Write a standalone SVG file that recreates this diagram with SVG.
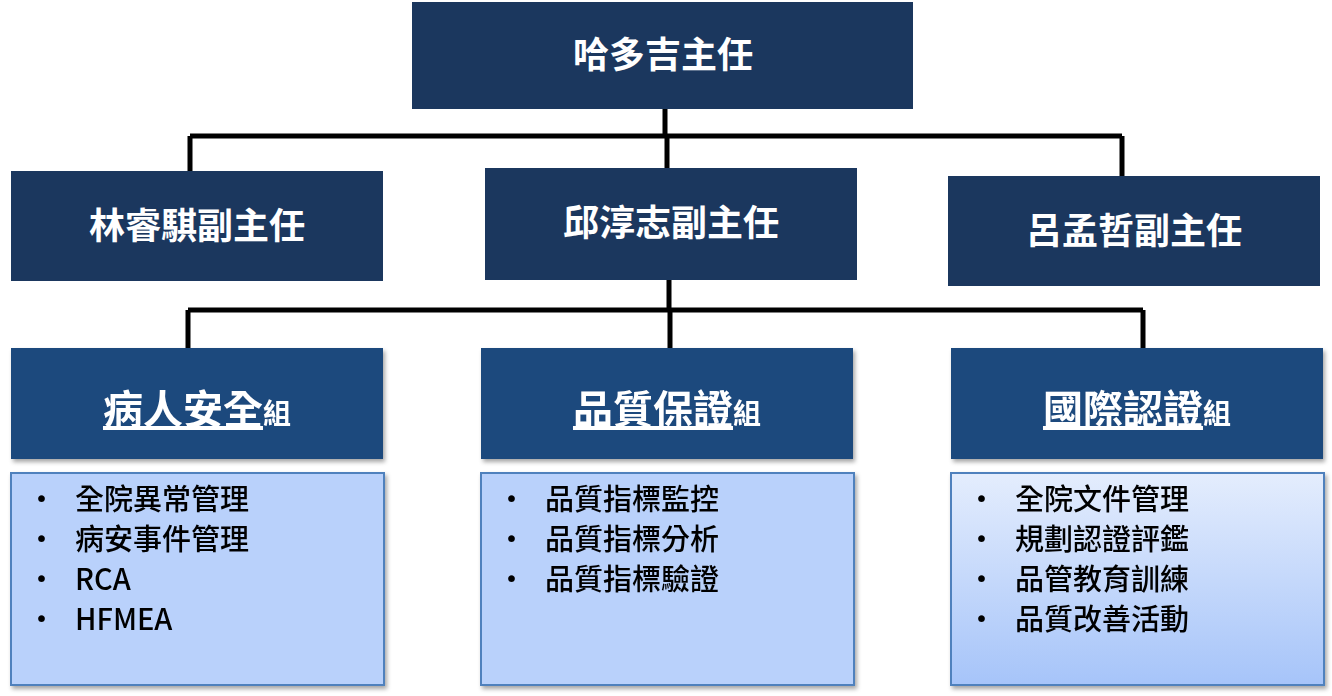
<svg xmlns="http://www.w3.org/2000/svg" width="1332" height="696" viewBox="0 0 1332 696">
<defs>
<linearGradient id="g3" x1="0" y1="0" x2="0" y2="1"><stop offset="0" stop-color="#e4edfd"/><stop offset="1" stop-color="#a6c4f9"/></linearGradient>
<filter id="sh" x="-5%" y="-5%" width="115%" height="120%"><feDropShadow dx="2" dy="3" stdDeviation="2" flood-opacity="0.35"/></filter>
</defs>
<style>
.n{fill:#1b375e}
.h{fill:#1f497d}
.l{fill:#b9d1fb;stroke:#4f81bd;stroke-width:2}
.t{font-family:"Noto Sans CJK TC","Noto Sans CJK SC",sans-serif;font-weight:bold;fill:#fff;text-anchor:middle}
.b{font-family:"Noto Sans CJK TC","Noto Sans CJK SC",sans-serif;font-weight:500;font-size:29px;fill:#000}
.c{stroke:#000;stroke-width:5;fill:none}
</style>
<g id="connectors">
<path class="c" d="M665 109V136M190 136H1122M190 136V171M667 136V168M1122 136V176"/>
<path class="c" d="M669 280V310M188 310H1143M188 310V348M670 310V348M1143 310V348"/>
</g>
<g id="top"><rect class="n" x="412" y="2" width="501" height="107"/><text class="t" x="663" y="68" font-size="36">哈多吉主任</text></g>
<g id="lin"><rect class="n" x="11" y="171" width="372" height="110"/><text class="t" x="197" y="239" font-size="36">林睿騏副主任</text></g>
<g id="qiu"><rect class="n" x="485" y="168" width="372" height="112"/><text class="t" x="671" y="236" font-size="36">邱淳志副主任</text></g>
<g id="lv"><rect class="n" x="948" y="176" width="372" height="110"/><text class="t" x="1134" y="244" font-size="36">呂孟哲副主任</text></g>
<g id="g1" filter="url(#sh)"><rect class="h" x="11" y="348" width="372" height="111"/><text class="t" x="197" y="424" font-size="40"><tspan text-decoration="underline">病人安全</tspan><tspan font-size="28">組</tspan></text></g>
<g id="g2" filter="url(#sh)"><rect class="h" x="481" y="348" width="372" height="111"/><text class="t" x="667" y="424" font-size="40"><tspan text-decoration="underline">品質保證</tspan><tspan font-size="28">組</tspan></text></g>
<g id="g3n" filter="url(#sh)"><rect class="h" x="951" y="348" width="372" height="111"/><text class="t" x="1137" y="424" font-size="40"><tspan text-decoration="underline">國際認證</tspan><tspan font-size="28">組</tspan></text></g>
<g id="l1" filter="url(#sh)"><rect class="l" x="11" y="473" width="373" height="212"/>
<text class="b"><tspan x="27" y="510">•</tspan><tspan x="75" y="510">全院異常管理</tspan><tspan x="27" y="550">•</tspan><tspan x="75" y="550">病安事件管理</tspan><tspan x="27" y="590">•</tspan><tspan x="75" y="590">RCA</tspan><tspan x="27" y="630">•</tspan><tspan x="75" y="630">HFMEA</tspan></text></g>
<g id="l2" filter="url(#sh)"><rect class="l" x="481" y="473" width="373" height="212"/>
<text class="b"><tspan x="497" y="510">•</tspan><tspan x="545" y="510">品質指標監控</tspan><tspan x="497" y="550">•</tspan><tspan x="545" y="550">品質指標分析</tspan><tspan x="497" y="590">•</tspan><tspan x="545" y="590">品質指標驗證</tspan></text></g>
<g id="l3" filter="url(#sh)"><rect class="l" x="951" y="473" width="373" height="212" fill="url(#g3)" style="fill:url(#g3)"/>
<text class="b"><tspan x="967" y="510">•</tspan><tspan x="1015" y="510">全院文件管理</tspan><tspan x="967" y="550">•</tspan><tspan x="1015" y="550">規劃認證評鑑</tspan><tspan x="967" y="590">•</tspan><tspan x="1015" y="590">品管教育訓練</tspan><tspan x="967" y="630">•</tspan><tspan x="1015" y="630">品質改善活動</tspan></text></g>
</svg>
